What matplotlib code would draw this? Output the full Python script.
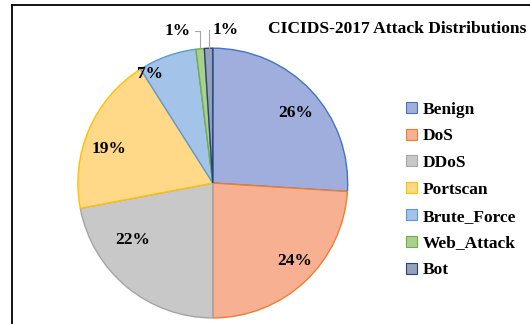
import matplotlib
matplotlib.use("Agg")
import matplotlib.pyplot as plt
from matplotlib.lines import Line2D
import numpy as np

categories = ["Benign", "DoS", "DDoS", "Portscan", "Brute_Force", "Web_Attack", "Bot"]
shares = [26, 24, 22, 19, 7, 1, 1]
fill_colors = ["#9FAEDD", "#F7B092", "#C8C8C8", "#FFD888", "#A4C3E8", "#A9D18E", "#95A0BA"]
edge_colors = ["#4472C4", "#ED7D31", "#A5A5A5", "#FFC000", "#5B9BD5", "#70AD47", "#264478"]
title = "CICIDS-2017 Attack Distributions"

# placement of the inside percentage labels: radius fraction and angular nudge (deg)
label_radius = [0.80, 0.84, 0.73, 0.81, 0.93]
label_turn = [-3, 3, -15, 5, 10]

plt.rcParams["font.family"] = ["Liberation Serif", "DejaVu Serif"]
plt.rcParams["font.weight"] = "bold"

fig = plt.figure(figsize=(5.3, 3.24), dpi=100)
ax = fig.add_axes([0.147, 0.0185, 0.509, 0.833])

wedges, texts, autotexts = ax.pie(
    shares,
    colors=fill_colors,
    startangle=90,
    counterclock=False,
    radius=1.0,
    autopct=lambda p: f"{p:.0f}%" if p >= 5 else "",
    pctdistance=0.8,
    textprops=dict(fontsize=12.5, fontweight="bold", color="black"),
    wedgeprops=dict(linewidth=1.0),
)
for w, ec in zip(wedges, edge_colors):
    w.set_edgecolor(ec)

for t, w, r, turn in zip(autotexts, wedges, label_radius, label_turn):
    mid = np.deg2rad((w.theta1 + w.theta2) / 2 + turn)
    t.set_position((r * np.cos(mid), r * np.sin(mid)))

ax.set_xlim(-1, 1)
ax.set_ylim(-1, 1)
ax.set_aspect("equal")
ax.axis("off")

# small slices get outside labels with leader lines
offsets = {5: (-7, 13), 6: (3, 13)}
for i, (dx, dy) in offsets.items():
    w = wedges[i]
    mid = np.deg2rad((w.theta1 + w.theta2) / 2)
    x, y = np.cos(mid), np.sin(mid)
    ax.annotate(
        f"{shares[i]}%",
        xy=(x, y),
        xytext=(dx, dy),
        textcoords="offset points",
        fontsize=12.5,
        fontweight="bold",
        ha="right" if dx < 0 else "left",
        va="center",
        annotation_clip=False,
        arrowprops=dict(arrowstyle="-", color="#A6A6A6", lw=0.8,
                        connectionstyle="angle,angleA=0,angleB=90,rad=0",
                        shrinkA=1, shrinkB=0),
    )

fig.text(0.506, 0.91, title, fontsize=12.6, fontweight="bold", ha="left", va="center")

handles = [
    plt.Rectangle((0, 0), 1, 1, facecolor=fc, edgecolor=ec, linewidth=0.8)
    for fc, ec in zip(fill_colors, edge_colors)
]
fig.legend(
    handles, categories,
    loc="center left",
    bbox_to_anchor=(0.737, 0.414),
    frameon=False,
    prop=dict(size=12.5, weight="bold"),
    handlelength=0.6,
    handleheight=0.6,
    handletextpad=0.35,
    labelspacing=0.62,
)

# chart border (left and top)
fig.add_artist(Line2D([0.023, 0.023], [0.0, 0.985], transform=fig.transFigure, color="black", lw=1.3))
fig.add_artist(Line2D([0.023, 1.0], [0.985, 0.985], transform=fig.transFigure, color="black", lw=1.3))

fig.savefig("out.png", dpi=100)
